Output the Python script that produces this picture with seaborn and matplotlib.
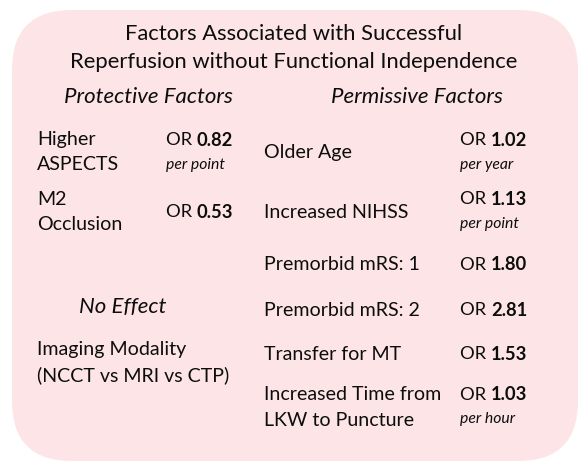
import matplotlib
matplotlib.use("Agg")
import matplotlib.pyplot as plt
import seaborn as sns
from matplotlib.patches import FancyBboxPatch

title_lines = ["Factors Associated with Successful",
               "Reperfusion without Functional Independence"]

protective_labels = [["Higher", "ASPECTS"], ["M2", "Occlusion"]]
protective_or = ["0.82", "0.53"]
protective_units = ["per point", ""]

permissive_labels = [["Older Age"], ["Increased NIHSS"], ["Premorbid mRS: 1"],
                     ["Premorbid mRS: 2"], ["Transfer for MT"],
                     ["Increased Time from", "LKW to Puncture"]]
permissive_or = ["1.02", "1.13", "1.80", "2.81", "1.53", "1.03"]
permissive_units = ["per year", "per point", "", "", "", "per hour"]

no_effect_labels = ["Imaging Modality", "(NCCT vs MRI vs CTP)"]

sns.set_theme(style="white")
plt.rcParams['font.family'] = ['Lato', 'DejaVu Sans']

W, H = 588, 469
fig = plt.figure(figsize=(W / 100, H / 100), dpi=100)
ax = fig.add_axes([0, 0, 1, 1])
ax.set_xlim(0, W)
ax.set_ylim(H, 0)
ax.axis('off')

box = FancyBboxPatch((12 + 60, 10 + 60), 566 - 120, 451 - 120,
                     boxstyle="round,pad=60", facecolor="#fde5e7",
                     edgecolor="none")
ax.add_patch(box)

FS = 14.1
FS_OR = 13.2
FS_SMALL = 11.3
FS_HEAD = 16.0
INK = "#0d0d0d"

for i, line in enumerate(title_lines):
    ax.text(294, 34 + i * 28, line, ha='center', va='center',
            fontsize=15.8, color=INK)

ax.text(148, 97, "Protective Factors", ha='center', va='center',
        fontsize=FS_HEAD, style='italic', color=INK)
ax.text(417, 97, "Permissive Factors", ha='center', va='center',
        fontsize=FS_HEAD, style='italic', color=INK)
ax.text(123, 307, "No Effect", ha='center', va='center',
        fontsize=FS_HEAD, style='italic', color=INK)

renderer = fig.canvas.get_renderer()


def draw_or(x, y, value):
    t = ax.text(x, y, "OR ", ha='left', va='center', fontsize=FS_OR, color=INK)
    bb = t.get_window_extent(renderer)
    ax.text(x + bb.width, y, value, ha='left', va='center', fontsize=FS_OR,
            fontweight='bold', color=INK)


def draw_row(xl, xo, yc, label_lines, value, unit):
    n = len(label_lines)
    for j, s in enumerate(label_lines):
        ax.text(xl, yc + (j - (n - 1) / 2) * 25, s, ha='left', va='center',
                fontsize=FS, color=INK)
    if unit:
        draw_or(xo, yc - 12.5, value)
        ax.text(xo, yc + 12, unit, ha='left', va='center', fontsize=FS_SMALL,
                style='italic', color=INK)
    else:
        draw_or(xo, yc, value)


prot_y = [152.5, 212]
for yc, lab, v, u in zip(prot_y, protective_labels, protective_or,
                         protective_units):
    draw_row(37, 166, yc, lab, v, u)

perm_y = [152.5, 212, 265, 310, 354, 407.5]
for yc, lab, v, u in zip(perm_y, permissive_labels, permissive_or,
                         permissive_units):
    draw_row(264, 460, yc, lab, v, u)

for j, s in enumerate(no_effect_labels):
    ax.text(37, 350 + j * 25, s, ha='left', va='center', fontsize=FS,
            color=INK)

fig.savefig("out.png", dpi=100)
